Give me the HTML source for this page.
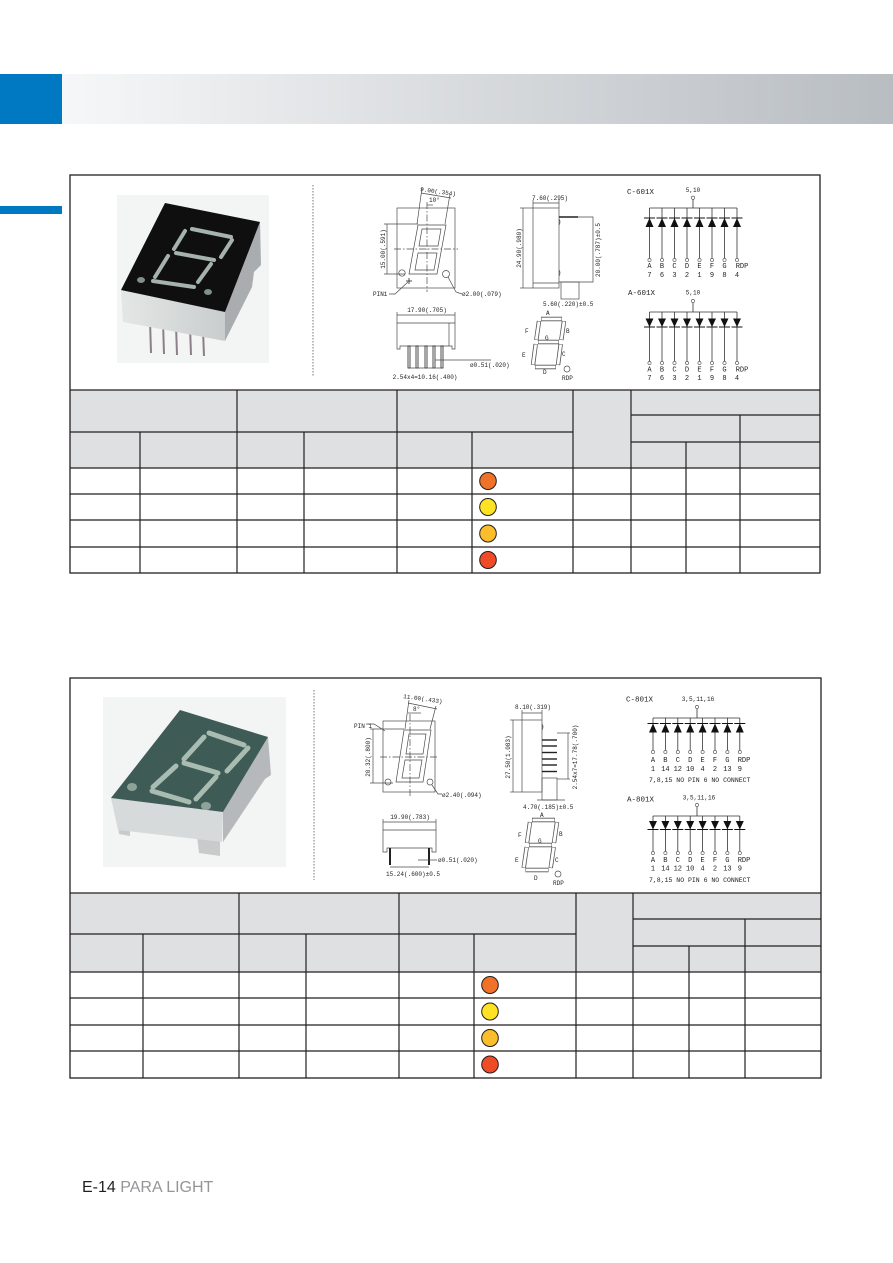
<!DOCTYPE html>
<html><head><meta charset="utf-8">
<style>
html,body{margin:0;padding:0;background:#fff;}
svg{display:block;}
.d{fill:none;stroke:#4a4a4a;stroke-width:0.7}
.t{font-family:"Liberation Mono",monospace;font-size:6px;fill:#222}
.c{font-family:"Liberation Mono",monospace;font-size:7px;fill:#222}
.ct{font-family:"Liberation Mono",monospace;font-size:7.5px;fill:#222}
.tl{stroke:#231f20;stroke-width:1.2;fill:none}
.pw{stroke:#333;stroke-width:0.8;fill:none}
.pc{fill:#fff;stroke:#444;stroke-width:0.6}
</style></head><body>
<svg width="893" height="1263" viewBox="0 0 893 1263" xmlns="http://www.w3.org/2000/svg">
<defs>
<linearGradient id="hg" x1="0" x2="1" y1="0" y2="0">
<stop offset="0" stop-color="#f6f7f8"/><stop offset="1" stop-color="#b8bdc2"/>
</linearGradient>
<linearGradient id="ff1" x1="0" x2="1" y1="0" y2="0">
<stop offset="0" stop-color="#e4e7e6"/><stop offset="1" stop-color="#c9cdcd"/>
</linearGradient>
<g id="du"><polygon points="0,0 -4,9 4,9" fill="#111"/><line x1="-5.5" y1="0" x2="5.5" y2="0" stroke="#111" stroke-width="1"/></g>
<g id="dd"><polygon points="-4,0 4,0 0,8.5" fill="#111"/><line x1="-5.5" y1="8.5" x2="5.5" y2="8.5" stroke="#111" stroke-width="1"/></g>
</defs>

<!-- Header -->
<rect x="62" y="74" width="831" height="50" fill="url(#hg)"/>
<rect x="0" y="74" width="62" height="50" fill="#0079c2"/>
<rect x="0" y="206" width="62" height="8" fill="#0079c2"/>

<!-- ================= PANEL 1 ================= -->
<!-- table header fill -->
<rect x="70" y="390" width="750" height="78" fill="#dfe0e2"/>

<!-- photo 1 -->
<rect x="117" y="195" width="152" height="168" fill="#f3f4f4"/>
<g stroke="#8b8088" stroke-width="2">
<line x1="150" y1="320" x2="151" y2="353"/>
<line x1="163" y1="322" x2="164" y2="354"/>
<line x1="176" y1="325" x2="177" y2="355"/>
<line x1="190" y1="327" x2="191" y2="355"/>
<line x1="203" y1="330" x2="204" y2="356"/>
</g>
<polygon points="260,222 261,265 254,272 252,287 225,341 225,312" fill="#a9adb0"/>
<polygon points="121,290 225,312 225,341 123,322" fill="url(#ff1)"/>
<polygon points="165,203 260,222 225,312 121,290" fill="#0f0f0f"/>
<g stroke="#a6b2ac" stroke-width="4" stroke-linecap="round" fill="none">
<path d="M192,229 L231,237"/>
<path d="M232,240 L221,257"/>
<path d="M185,231 L174,249"/>
<path d="M176,253 L214,260"/>
<path d="M168,256 L155,277"/>
<path d="M211,264 L198,282"/>
<path d="M153,281 L194,287"/>
</g>
<ellipse cx="141" cy="280" rx="4" ry="3" fill="#7f8f8a"/>
<ellipse cx="208" cy="292" rx="4" ry="3" fill="#7f8f8a"/>

<!-- divider -->
<line x1="313" y1="185" x2="313" y2="377" stroke="#555" stroke-width="0.8" stroke-dasharray="1.5,1.5"/>

<!-- front view 1 -->
<rect class="d" x="397" y="208" width="58" height="80"/>
<line class="d" x1="427" y1="202" x2="427" y2="292" stroke-dasharray="7,2,1.5,2"/>
<line class="d" x1="394" y1="249" x2="458" y2="249" stroke-dasharray="7,2,1.5,2"/>
<polygon class="d" points="418,225 446,225 437,274 409,274"/>
<polygon class="d" points="422,229 441,229 438,246 419,246"/>
<polygon class="d" points="418,253 437,253 434,270 415,270"/>
<line class="d" x1="417" y1="224" x2="422" y2="188"/>
<line class="d" x1="445" y1="224" x2="450" y2="194"/>
<line class="d" x1="421" y1="193" x2="451" y2="198"/>
<text class="t" transform="translate(420,191) rotate(8)">9.00(.354)</text>
<text class="t" x="429" y="202">10°</text>
<line class="d" x1="427" y1="205" x2="433" y2="205"/>
<line class="d" x1="387" y1="224" x2="387" y2="274"/>
<line class="d" x1="384" y1="224" x2="418" y2="224"/>
<line class="d" x1="384" y1="274" x2="405" y2="274"/>
<text class="t" text-anchor="middle" transform="translate(385,249) rotate(-90)">15.00(.591)</text>
<circle class="d" cx="402" cy="273" r="3.2"/>
<circle class="d" cx="446" cy="274" r="3.5"/>
<line x1="406" y1="281" x2="412" y2="281" stroke="#222" stroke-width="0.8"/>
<line x1="409" y1="278" x2="409" y2="284" stroke="#222" stroke-width="0.8"/>
<text class="t" x="373" y="296">PIN1</text>
<polyline class="d" points="389,294 395,294 408,282"/>
<polyline class="d" points="448,277 456,292 462,294"/>
<text class="t" x="462" y="296">ø2.00(.079)</text>

<!-- side view 1 -->
<rect class="d" x="533" y="208" width="26" height="80"/>
<line class="d" x1="533" y1="283" x2="559" y2="283"/>
<path class="d" d="M559,219 q2,3 0,6 M559,270 q2,3 0,6"/>
<line x1="559" y1="217" x2="578" y2="217" stroke="#222" stroke-width="1.6"/>
<polyline class="d" points="578,217 593,217 593,282 559,282"/>
<rect class="d" x="561" y="282" width="18" height="17"/>
<line class="d" x1="533" y1="203" x2="559" y2="203"/>
<line class="d" x1="533" y1="200" x2="533" y2="208"/>
<line class="d" x1="559" y1="200" x2="559" y2="208"/>
<text class="t" x="532" y="200">7.60(.295)</text>
<line class="d" x1="523" y1="208" x2="523" y2="288"/>
<line class="d" x1="520" y1="208" x2="533" y2="208"/>
<line class="d" x1="520" y1="288" x2="533" y2="288"/>
<text class="t" text-anchor="middle" transform="translate(521,248) rotate(-90)">24.90(.980)</text>
<text class="t" text-anchor="middle" transform="translate(600,250) rotate(-90)">20.00(.787)±0.5</text>
<text class="t" x="543" y="306">5.60(.220)±0.5</text>

<!-- bottom view 1 -->
<line class="d" x1="397" y1="315" x2="455" y2="315"/>
<line class="d" x1="397" y1="312" x2="397" y2="323"/>
<line class="d" x1="455" y1="312" x2="455" y2="323"/>
<text class="t" text-anchor="middle" x="427" y="312">17.90(.705)</text>
<polygon class="d" points="397,323 455,323 455,349 452,349 452,346 400,346 400,349 397,349"/>
<line class="d" x1="449" y1="323" x2="449" y2="346"/>
<g fill="#fff" stroke="#222" stroke-width="0.8">
<rect x="408" y="346" width="2" height="22"/>
<rect x="416" y="346" width="2" height="22"/>
<rect x="425" y="346" width="2" height="22"/>
<rect x="433" y="346" width="2" height="22"/>
<rect x="441" y="346" width="2" height="22"/>
</g>
<line class="d" x1="408" y1="368" x2="443" y2="368"/>
<line class="d" x1="435" y1="360" x2="491" y2="360"/>
<text class="t" x="470" y="367">ø0.51(.020)</text>
<text class="t" text-anchor="middle" x="425" y="379">2.54x4=10.16(.400)</text>

<!-- 7seg label 1 -->
<g stroke="#555" stroke-width="4.4" fill="none">
<path d="M541,319 L562,319 M564,321 L561.3,340 M539,321 L536.3,340 M538,342 L559,342 M560.7,344 L558,365 M535.7,344 L533,365 M535,367 L556,367"/>
</g>
<g stroke="#fff" stroke-width="2.8" fill="none">
<path d="M541.5,319 L561.5,319 M564,321.5 L561.3,339.5 M539,321.5 L536.3,339.5 M538.5,342 L558.5,342 M560.7,344.5 L558,364.5 M535.7,344.5 L533,364.5 M535.5,367 L555.5,367"/>
</g>
<text class="t" x="546" y="315">A</text>
<text class="t" x="525" y="333">F</text>
<text class="t" x="566" y="333">B</text>
<text class="t" x="545" y="340">G</text>
<text class="t" x="522" y="357">E</text>
<text class="t" x="562" y="356">C</text>
<text class="t" x="543" y="374">D</text>
<circle class="d" cx="567" cy="369" r="3"/>
<text class="t" x="562" y="380">RDP</text>

<!-- circuit C-601X -->
<text class="ct" x="627" y="194">C-601X</text>
<text class="t" text-anchor="middle" x="693" y="192">5,10</text>
<circle class="pc" cx="693" cy="197.7" r="1.6"/>
<line class="pw" x1="693" y1="199.3" x2="693" y2="208"/>
<line class="pw" x1="649.5" y1="208" x2="737" y2="208"/>
<g class="pw">
<line x1="649.5" y1="208" x2="649.5" y2="258.4"/><line x1="662" y1="208" x2="662" y2="258.4"/>
<line x1="674.5" y1="208" x2="674.5" y2="258.4"/><line x1="687" y1="208" x2="687" y2="258.4"/>
<line x1="699.5" y1="208" x2="699.5" y2="258.4"/><line x1="712" y1="208" x2="712" y2="258.4"/>
<line x1="724.5" y1="208" x2="724.5" y2="258.4"/><line x1="737" y1="208" x2="737" y2="258.4"/>
</g>
<use href="#du" x="649.5" y="218"/><use href="#du" x="662" y="218"/><use href="#du" x="674.5" y="218"/><use href="#du" x="687" y="218"/>
<use href="#du" x="699.5" y="218"/><use href="#du" x="712" y="218"/><use href="#du" x="724.5" y="218"/><use href="#du" x="737" y="218"/>
<g class="pc">
<circle cx="649.5" cy="260" r="1.6"/><circle cx="662" cy="260" r="1.6"/><circle cx="674.5" cy="260" r="1.6"/><circle cx="687" cy="260" r="1.6"/>
<circle cx="699.5" cy="260" r="1.6"/><circle cx="712" cy="260" r="1.6"/><circle cx="724.5" cy="260" r="1.6"/><circle cx="737" cy="260" r="1.6"/>
</g>
<g class="c" text-anchor="middle">
<text x="649.5" y="268">A</text><text x="662" y="268">B</text><text x="674.5" y="268">C</text><text x="687" y="268">D</text>
<text x="699.5" y="268">E</text><text x="712" y="268">F</text><text x="724.5" y="268">G</text><text x="742" y="268">RDP</text>
<text x="649.5" y="277">7</text><text x="662" y="277">6</text><text x="674.5" y="277">3</text><text x="687" y="277">2</text>
<text x="699.5" y="277">1</text><text x="712" y="277">9</text><text x="724.5" y="277">8</text><text x="737" y="277">4</text>
</g>

<!-- circuit A-601X -->
<text class="ct" x="628" y="295">A-601X</text>
<text class="t" text-anchor="middle" x="693" y="294.5">5,10</text>
<circle class="pc" cx="693" cy="301" r="1.6"/>
<line class="pw" x1="693" y1="302.6" x2="693" y2="312"/>
<line class="pw" x1="649.5" y1="312" x2="737" y2="312"/>
<g class="pw">
<line x1="649.5" y1="312" x2="649.5" y2="361.4"/><line x1="662" y1="312" x2="662" y2="361.4"/>
<line x1="674.5" y1="312" x2="674.5" y2="361.4"/><line x1="687" y1="312" x2="687" y2="361.4"/>
<line x1="699.5" y1="312" x2="699.5" y2="361.4"/><line x1="712" y1="312" x2="712" y2="361.4"/>
<line x1="724.5" y1="312" x2="724.5" y2="361.4"/><line x1="737" y1="312" x2="737" y2="361.4"/>
</g>
<use href="#dd" x="649.5" y="318.5"/><use href="#dd" x="662" y="318.5"/><use href="#dd" x="674.5" y="318.5"/><use href="#dd" x="687" y="318.5"/>
<use href="#dd" x="699.5" y="318.5"/><use href="#dd" x="712" y="318.5"/><use href="#dd" x="724.5" y="318.5"/><use href="#dd" x="737" y="318.5"/>
<g class="pc">
<circle cx="649.5" cy="363" r="1.6"/><circle cx="662" cy="363" r="1.6"/><circle cx="674.5" cy="363" r="1.6"/><circle cx="687" cy="363" r="1.6"/>
<circle cx="699.5" cy="363" r="1.6"/><circle cx="712" cy="363" r="1.6"/><circle cx="724.5" cy="363" r="1.6"/><circle cx="737" cy="363" r="1.6"/>
</g>
<g class="c" text-anchor="middle">
<text x="649.5" y="371.5">A</text><text x="662" y="371.5">B</text><text x="674.5" y="371.5">C</text><text x="687" y="371.5">D</text>
<text x="699.5" y="371.5">E</text><text x="712" y="371.5">F</text><text x="724.5" y="371.5">G</text><text x="742" y="371.5">RDP</text>
<text x="649.5" y="380">7</text><text x="662" y="380">6</text><text x="674.5" y="380">3</text><text x="687" y="380">2</text>
<text x="699.5" y="380">1</text><text x="712" y="380">9</text><text x="724.5" y="380">8</text><text x="737" y="380">4</text>
</g>

<!-- table 1 lines -->
<g class="tl">
<line x1="70" y1="390" x2="820" y2="390"/>
<line x1="70" y1="432" x2="573" y2="432"/>
<line x1="631" y1="415" x2="820" y2="415"/>
<line x1="631" y1="442" x2="820" y2="442"/>
<line x1="70" y1="468" x2="820" y2="468"/>
<line x1="70" y1="494" x2="820" y2="494"/>
<line x1="70" y1="520" x2="820" y2="520"/>
<line x1="70" y1="547" x2="820" y2="547"/>
<line x1="140" y1="432" x2="140" y2="573"/>
<line x1="237" y1="390" x2="237" y2="573"/>
<line x1="304" y1="432" x2="304" y2="573"/>
<line x1="397" y1="390" x2="397" y2="573"/>
<line x1="472" y1="432" x2="472" y2="573"/>
<line x1="573" y1="390" x2="573" y2="573"/>
<line x1="631" y1="390" x2="631" y2="573"/>
<line x1="686" y1="442" x2="686" y2="573"/>
<line x1="740" y1="415" x2="740" y2="573"/>
</g>
<g stroke="#231f20" stroke-width="1">
<ellipse cx="488" cy="481" rx="8.3" ry="8.5" fill="#f07128"/>
<ellipse cx="488" cy="507" rx="8.3" ry="8.5" fill="#fde323"/>
<ellipse cx="488" cy="533.5" rx="8.3" ry="8.5" fill="#fbbd2b"/>
<ellipse cx="488" cy="560" rx="8.3" ry="8.5" fill="#ef4b27"/>
</g>
<rect x="70" y="175" width="750" height="398" fill="none" stroke="#231f20" stroke-width="1.3"/>

<!-- ================= PANEL 2 ================= -->
<rect x="70" y="893" width="751" height="79" fill="#dfe0e2"/>

<!-- photo 2 -->
<rect x="103" y="697" width="183" height="170" fill="#f3f4f4"/>
<polygon points="268,737 271,775 265,779 223,842 223,812" fill="#b5b9bb"/>
<polygon points="197,836 220,840 220,856 199,853" fill="#c7cbcb"/>
<polygon points="118,826 130,828 130,836 119,834" fill="#c7cbcb"/>
<polygon points="111,798 223,812 222,842 118,830" fill="#d7dada"/>
<polygon points="180,710 268,737 223,812 111,798" fill="#3f5b56"/>
<g stroke="#a9bcb2" stroke-width="5" stroke-linecap="round" fill="none">
<path d="M209,733 L244,745"/>
<path d="M248,748 L227,771"/>
<path d="M204,737 L184,759"/>
<path d="M184,763 L218,773"/>
<path d="M176,766 L153,787"/>
<path d="M216,777 L196,799"/>
<path d="M152,791 L189,802"/>
</g>
<ellipse cx="132" cy="787" rx="5" ry="4" fill="#8da39a"/>
<ellipse cx="206" cy="806" rx="5" ry="4" fill="#8da39a"/>

<line x1="314" y1="690" x2="314" y2="880" stroke="#555" stroke-width="0.8" stroke-dasharray="1.5,1.5"/>

<!-- front view 2 -->
<rect class="d" x="383" y="721" width="52" height="71"/>
<line class="d" x1="410" y1="714" x2="410" y2="797" stroke-dasharray="7,2,1.5,2"/>
<line class="d" x1="380" y1="757" x2="438" y2="757" stroke-dasharray="7,2,1.5,2"/>
<polygon class="d" points="404,730 431,730 423,782 396,782"/>
<polygon class="d" points="409,734 426,734 423,754 406,754"/>
<polygon class="d" points="405,760 422,760 419,778 402,778"/>
<line class="d" x1="405" y1="729" x2="409" y2="700"/>
<line class="d" x1="430" y1="729" x2="436" y2="706"/>
<line class="d" x1="408" y1="703" x2="437" y2="709"/>
<text class="t" transform="translate(403,698) rotate(8)">11.00(.433)</text>
<text class="t" x="413" y="711">8°</text>
<line class="d" x1="408" y1="713" x2="421" y2="713"/>
<text class="t" x="354" y="728">PIN 1</text>
<polyline class="d" points="366,724 374,724 385,731"/>
<line class="d" x1="373" y1="729" x2="373" y2="783"/>
<line class="d" x1="370" y1="729" x2="404" y2="729"/>
<line class="d" x1="370" y1="783" x2="393" y2="783"/>
<text class="t" text-anchor="middle" transform="translate(370,757) rotate(-90)">20.32(.800)</text>
<circle class="d" cx="388" cy="782" r="3"/>
<circle class="d" cx="430" cy="782" r="3"/>
<polyline class="d" points="432,785 438,794 442,794"/>
<text class="t" x="442" y="797">ø2.40(.094)</text>

<!-- side view 2 -->
<rect class="d" x="522" y="720" width="20" height="72"/>
<path class="d" d="M542,724 q2,3 0,6"/>
<line class="d" x1="522" y1="713" x2="542" y2="713"/>
<line class="d" x1="522" y1="710" x2="522" y2="720"/>
<line class="d" x1="542" y1="710" x2="542" y2="720"/>
<text class="t" x="515" y="709">8.10(.319)</text>
<line class="d" x1="513" y1="720" x2="513" y2="792"/>
<line class="d" x1="510" y1="720" x2="522" y2="720"/>
<line class="d" x1="510" y1="792" x2="522" y2="792"/>
<text class="t" text-anchor="middle" transform="translate(510,757) rotate(-90)">27.50(1.083)</text>
<g stroke="#222" stroke-width="1.4">
<line x1="542" y1="740" x2="557" y2="740"/>
<line x1="542" y1="746" x2="557" y2="746"/>
<line x1="542" y1="752.5" x2="557" y2="752.5"/>
<line x1="542" y1="759" x2="557" y2="759"/>
<line x1="542" y1="765" x2="557" y2="765"/>
<line x1="542" y1="771.5" x2="557" y2="771.5"/>
</g>
<line class="d" x1="568" y1="733" x2="568" y2="779"/>
<line class="d" x1="557" y1="733" x2="570" y2="733"/>
<line class="d" x1="557" y1="779" x2="570" y2="779"/>
<text class="t" text-anchor="middle" transform="translate(577,757) rotate(-90)">2.54x7=17.78(.700)</text>
<rect class="d" x="542" y="778" width="15" height="22"/>
<line class="d" x1="537" y1="800" x2="565" y2="800"/>
<text class="t" x="523" y="809">4.70(.185)±0.5</text>

<!-- bottom view 2 -->
<line class="d" x1="383" y1="822" x2="436" y2="822"/>
<line class="d" x1="383" y1="819" x2="383" y2="830"/>
<line class="d" x1="436" y1="819" x2="436" y2="830"/>
<text class="t" text-anchor="middle" x="410" y="819">19.90(.783)</text>
<polygon class="d" points="383,830 436,830 436,852 432,852 432,848 387,848 387,852 383,852"/>
<g fill="#222">
<rect x="389" y="848" width="2" height="17"/>
<rect x="428" y="848" width="2" height="17"/>
</g>
<line class="d" x1="390" y1="867" x2="429" y2="867"/>
<line class="d" x1="418" y1="860" x2="437" y2="860"/>
<text class="t" x="438" y="862">ø0.51(.020)</text>
<text class="t" text-anchor="middle" x="413" y="876">15.24(.600)±0.5</text>

<!-- 7seg label 2 -->
<g stroke="#555" stroke-width="4.4" fill="none">
<path d="M532,820 L555,820 M557,822 L554,843 M530,822 L527,843 M529,845 L552,845 M553.7,847 L550.7,868 M526.7,847 L523.7,868 M525.5,870 L548.5,870"/>
</g>
<g stroke="#fff" stroke-width="2.8" fill="none">
<path d="M532.5,820 L554.5,820 M557,822.5 L554,842.5 M530,822.5 L527,842.5 M529.5,845 L551.5,845 M553.7,847.5 L550.7,867.5 M526.7,847.5 L523.7,867.5 M526,870 L548,870"/>
</g>
<text class="t" x="540" y="817">A</text>
<text class="t" x="518" y="837">F</text>
<text class="t" x="559" y="836">B</text>
<text class="t" x="538" y="843">G</text>
<text class="t" x="515" y="862">E</text>
<text class="t" x="555" y="862">C</text>
<text class="t" x="534" y="880">D</text>
<circle class="d" cx="558" cy="874" r="3"/>
<text class="t" x="553" y="885">RDP</text>

<!-- circuit C-801X -->
<text class="ct" x="626" y="701.5">C-801X</text>
<text class="t" text-anchor="middle" x="698" y="701">3,5,11,16</text>
<circle class="pc" cx="697" cy="707" r="1.6"/>
<line class="pw" x1="697" y1="708.6" x2="697" y2="718"/>
<line class="pw" x1="653" y1="718" x2="739.8" y2="718"/>
<g class="pw">
<line x1="653" y1="718" x2="653" y2="750.4"/><line x1="665.4" y1="718" x2="665.4" y2="750.4"/>
<line x1="677.8" y1="718" x2="677.8" y2="750.4"/><line x1="690.2" y1="718" x2="690.2" y2="750.4"/>
<line x1="702.6" y1="718" x2="702.6" y2="750.4"/><line x1="715" y1="718" x2="715" y2="750.4"/>
<line x1="727.4" y1="718" x2="727.4" y2="750.4"/><line x1="739.8" y1="718" x2="739.8" y2="750.4"/>
</g>
<use href="#du" x="653" y="723.5"/><use href="#du" x="665.4" y="723.5"/><use href="#du" x="677.8" y="723.5"/><use href="#du" x="690.2" y="723.5"/>
<use href="#du" x="702.6" y="723.5"/><use href="#du" x="715" y="723.5"/><use href="#du" x="727.4" y="723.5"/><use href="#du" x="739.8" y="723.5"/>
<g class="pc">
<circle cx="653" cy="752" r="1.6"/><circle cx="665.4" cy="752" r="1.6"/><circle cx="677.8" cy="752" r="1.6"/><circle cx="690.2" cy="752" r="1.6"/>
<circle cx="702.6" cy="752" r="1.6"/><circle cx="715" cy="752" r="1.6"/><circle cx="727.4" cy="752" r="1.6"/><circle cx="739.8" cy="752" r="1.6"/>
</g>
<g class="c" text-anchor="middle">
<text x="653" y="762">A</text><text x="665.4" y="762">B</text><text x="677.8" y="762">C</text><text x="690.2" y="762">D</text>
<text x="702.6" y="762">E</text><text x="715" y="762">F</text><text x="727.4" y="762">G</text><text x="744" y="762">RDP</text>
<text x="653" y="771">1</text><text x="665.4" y="771">14</text><text x="677.8" y="771">12</text><text x="690.2" y="771">10</text>
<text x="702.6" y="771">4</text><text x="715" y="771">2</text><text x="727.4" y="771">13</text><text x="739.8" y="771">9</text>
</g>
<text class="t" x="649" y="782" style="font-size:6.5px">7,8,15  NO PIN  6 NO CONNECT</text>

<!-- circuit A-801X -->
<text class="ct" x="627" y="801.5">A-801X</text>
<text class="t" text-anchor="middle" x="699" y="799.5">3,5,11,16</text>
<circle class="pc" cx="697" cy="805" r="1.6"/>
<line class="pw" x1="697" y1="806.6" x2="697" y2="816"/>
<line class="pw" x1="653" y1="816" x2="739.8" y2="816"/>
<g class="pw">
<line x1="653" y1="816" x2="653" y2="851.4"/><line x1="665.4" y1="816" x2="665.4" y2="851.4"/>
<line x1="677.8" y1="816" x2="677.8" y2="851.4"/><line x1="690.2" y1="816" x2="690.2" y2="851.4"/>
<line x1="702.6" y1="816" x2="702.6" y2="851.4"/><line x1="715" y1="816" x2="715" y2="851.4"/>
<line x1="727.4" y1="816" x2="727.4" y2="851.4"/><line x1="739.8" y1="816" x2="739.8" y2="851.4"/>
</g>
<use href="#dd" x="653" y="821"/><use href="#dd" x="665.4" y="821"/><use href="#dd" x="677.8" y="821"/><use href="#dd" x="690.2" y="821"/>
<use href="#dd" x="702.6" y="821"/><use href="#dd" x="715" y="821"/><use href="#dd" x="727.4" y="821"/><use href="#dd" x="739.8" y="821"/>
<g class="pc">
<circle cx="653" cy="853" r="1.6"/><circle cx="665.4" cy="853" r="1.6"/><circle cx="677.8" cy="853" r="1.6"/><circle cx="690.2" cy="853" r="1.6"/>
<circle cx="702.6" cy="853" r="1.6"/><circle cx="715" cy="853" r="1.6"/><circle cx="727.4" cy="853" r="1.6"/><circle cx="739.8" cy="853" r="1.6"/>
</g>
<g class="c" text-anchor="middle">
<text x="653" y="862">A</text><text x="665.4" y="862">B</text><text x="677.8" y="862">C</text><text x="690.2" y="862">D</text>
<text x="702.6" y="862">E</text><text x="715" y="862">F</text><text x="727.4" y="862">G</text><text x="744" y="862">RDP</text>
<text x="653" y="870.5">1</text><text x="665.4" y="870.5">14</text><text x="677.8" y="870.5">12</text><text x="690.2" y="870.5">10</text>
<text x="702.6" y="870.5">4</text><text x="715" y="870.5">2</text><text x="727.4" y="870.5">13</text><text x="739.8" y="870.5">9</text>
</g>
<text class="t" x="649" y="882" style="font-size:6.5px">7,8,15  NO PIN  6 NO CONNECT</text>

<!-- table 2 lines -->
<g class="tl">
<line x1="70" y1="893" x2="821" y2="893"/>
<line x1="70" y1="934" x2="576" y2="934"/>
<line x1="633" y1="919" x2="821" y2="919"/>
<line x1="633" y1="946" x2="821" y2="946"/>
<line x1="70" y1="972" x2="821" y2="972"/>
<line x1="70" y1="998" x2="821" y2="998"/>
<line x1="70" y1="1025" x2="821" y2="1025"/>
<line x1="70" y1="1051" x2="821" y2="1051"/>
<line x1="143" y1="934" x2="143" y2="1078"/>
<line x1="239" y1="893" x2="239" y2="1078"/>
<line x1="306" y1="934" x2="306" y2="1078"/>
<line x1="399" y1="893" x2="399" y2="1078"/>
<line x1="474" y1="934" x2="474" y2="1078"/>
<line x1="576" y1="893" x2="576" y2="1078"/>
<line x1="633" y1="893" x2="633" y2="1078"/>
<line x1="689" y1="946" x2="689" y2="1078"/>
<line x1="745" y1="919" x2="745" y2="1078"/>
</g>
<g stroke="#231f20" stroke-width="1">
<ellipse cx="490" cy="985" rx="8.3" ry="8.5" fill="#f07128"/>
<ellipse cx="490" cy="1011.5" rx="8.3" ry="8.5" fill="#fde323"/>
<ellipse cx="490" cy="1038" rx="8.3" ry="8.5" fill="#fbbd2b"/>
<ellipse cx="490" cy="1064.5" rx="8.3" ry="8.5" fill="#ef4b27"/>
</g>
<rect x="70" y="678" width="751" height="400" fill="none" stroke="#231f20" stroke-width="1.3"/>

<!-- footer -->
<text x="82" y="1192" style="font-family:'Liberation Sans',sans-serif;font-size:16px"><tspan fill="#231f20">E-14</tspan><tspan fill="#939598"> PARA LIGHT</tspan></text>
</svg>
</body></html>
